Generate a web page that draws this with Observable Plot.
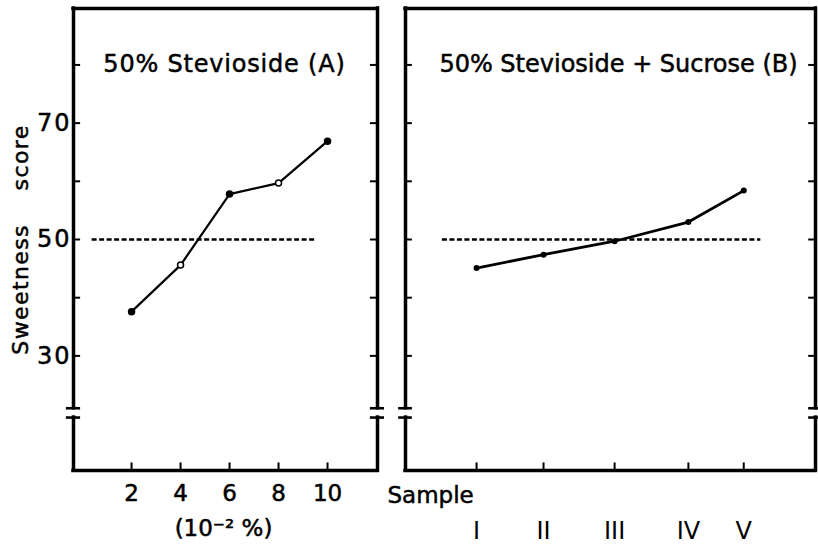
<!DOCTYPE html>
<html>
<head>
<meta charset="utf-8">
<script src="https://cdn.jsdelivr.net/npm/d3@7"></script>
<script src="https://cdn.jsdelivr.net/npm/@observablehq/plot@0.6"></script>
<style>
html, body { margin: 0; padding: 0; background: #fff; }
#wrap { position: relative; width: 818px; height: 546px; overflow: hidden; background: #fff; }
#wrap svg { position: absolute; top: 0; }
</style>
</head>
<body>
<div id="wrap"></div>
<script>
// ---- data ----
const concA = [2, 4, 6, 8, 10];                 // stevioside concentration (10^-2 %)
const scoreA = [37.6, 45.6, 57.8, 59.7, 66.9];  // sweetness score, panel A
const samples = ["I", "II", "III", "IV", "V"];
const samplePos = [1.04, 2.02, 3.06, 4.14, 4.95]; // positions of samples on panel B axis
const scoreB = [45.1, 47.4, 49.7, 53.0, 58.4];  // sweetness score, panel B
const yTicks = [30, 40, 50, 60, 70, 80];
const yTickLabels = [30, 50, 70];
const referenceScore = 50;
const refSpanA = [0.39, 9.54];
const refSpanB = [0.54, 5.2];
const titleA = "50% Stevioside (A)";
const titleB = "50% Stevioside + Sucrose (B)";
const xLabelA = "(10\u207B\u00B2 %)";
const xLabelB = "Sample";
const yLabel = "Sweetness\u00A0\u00A0\u00A0\u00A0score";

// ---- layout ----
const Y_DOMAIN = [10.3, 89.7];
const BREAK_HI = 21.0, BREAK_LO = 19.4;
const FONT = "DejaVu Sans, Liberation Sans, sans-serif";
const TXT = {fill: "black", stroke: "black", strokeWidth: 0.5, lineAnchor: "middle"};

const rowsA = concA.map((c, i) => ({conc: c, score: scoreA[i]}));
const rowsB = samples.map((s, i) => ({sample: s, pos: samplePos[i], score: scoreB[i]}));

function frameMarks(xDomain, tickLen, capHalf, xTickValues) {
  const [x0, x1] = xDomain;
  const [y0, y1] = Y_DOMAIN;
  const sw = 3.5;
  return [
    Plot.ruleY([y0, y1], {y: d => d, x1: x0, x2: x1, stroke: "black", strokeWidth: sw, strokeLinecap: "square"}),
    Plot.ruleX([x0, x1], {x: d => d, y1: BREAK_HI, y2: y1, stroke: "black", strokeWidth: sw, strokeLinecap: "square"}),
    Plot.ruleX([x0, x1], {x: d => d, y1: y0, y2: BREAK_LO, stroke: "black", strokeWidth: sw, strokeLinecap: "square"}),
    Plot.ruleY(d3.cross([x0, x1], [BREAK_HI, BREAK_LO]), {
      y: d => d[1], x1: d => d[0] - capHalf, x2: d => d[0] + capHalf, stroke: "black", strokeWidth: 2.6
    }),
    Plot.ruleY(d3.cross([x0, x1], yTicks), {
      y: d => d[1], x1: d => d[0], x2: d => d[0] === x0 ? x0 + tickLen : x1 - tickLen, stroke: "black", strokeWidth: 2
    }),
    Plot.ruleX(xTickValues, {x: d => d, y1: y0, y2: y0 + 1.3, stroke: "black", strokeWidth: 2})
  ];
}

const common = {
  height: 546,
  marginTop: 8,
  marginBottom: 76,
  y: {domain: Y_DOMAIN, axis: null},
  style: {fontFamily: FONT, background: "white", color: "black", overflow: "visible"}
};

// ---- Panel A ----
const xDomA = [-0.37, 12.04];
const plotA = Plot.plot({
  ...common,
  width: 384,
  marginLeft: 73,
  marginRight: 7,
  x: {domain: xDomA, axis: null},
  marks: [
    ...frameMarks(xDomA, 0.29, 0.29, concA),
    Plot.ruleY([referenceScore], {y: d => d, x1: refSpanA[0], x2: refSpanA[1], stroke: "black", strokeWidth: 2.4, strokeDasharray: "5,2.5"}),
    Plot.line(rowsA, {x: "conc", y: "score", stroke: "black", strokeWidth: 2.2}),
    Plot.dot(rowsA, {x: "conc", y: "score", r: 3, stroke: "black", strokeWidth: 1.5, fill: (d, i) => (i % 2 ? "white" : "black")}),
    Plot.text(yTickLabels, {...TXT, x: xDomA[0], y: d => d, text: d => String(d), dx: -2, textAnchor: "end", fontSize: 24}),
    Plot.text(concA, {...TXT, x: d => d, y: Y_DOMAIN[0], text: d => String(d), dy: 23, fontSize: 23}),
    Plot.text([xLabelA], {...TXT, frameAnchor: "bottom", textAnchor: "middle", dx: -2, dy: 58, fontSize: 23}),
    Plot.text([titleA], {...TXT, frameAnchor: "top", textAnchor: "middle", dx: -1, dy: 55.5, fontSize: 24}),
    Plot.text([yLabel], {...TXT, frameAnchor: "left", textAnchor: "middle", dx: -53, rotate: -90, fontSize: 22})
  ]
});

// ---- Panel B ----
const xDomB = [0, 6];
const plotB = Plot.plot({
  ...common,
  width: 434,
  marginLeft: 21,
  marginRight: 3,
  x: {domain: xDomB, axis: null},
  marks: [
    ...frameMarks(xDomB, 0.1, 0.1, samplePos),
    Plot.ruleY([referenceScore], {y: d => d, x1: refSpanB[0], x2: refSpanB[1], stroke: "black", strokeWidth: 2.4, strokeDasharray: "5,2.5"}),
    Plot.line(rowsB, {x: "pos", y: "score", stroke: "black", strokeWidth: 2.8}),
    Plot.dot(rowsB, {x: "pos", y: "score", r: 3, fill: "black"}),
    Plot.text(rowsB, {fill: "black", lineAnchor: "middle", x: "pos", y: Y_DOMAIN[0], text: "sample", dy: 61, fontSize: 24}),
    Plot.text([xLabelB], {...TXT, frameAnchor: "bottom-left", dx: -18, dy: 25, textAnchor: "start", fontSize: 23}),
    Plot.text([titleB], {...TXT, frameAnchor: "top", textAnchor: "middle", dx: 8, dy: 55.5, fontSize: 24})
  ]
});

plotA.style.left = "0px";
plotB.style.left = "384px";
const wrap = document.getElementById("wrap");
wrap.appendChild(plotA);
wrap.appendChild(plotB);

// letter spacing tweaks to match the hand lettering
d3.select(plotA).selectAll("text").each(function () {
  const t = this.textContent;
  if (t === titleA) this.style.letterSpacing = "0.8px";
  if (t === yLabel) this.style.letterSpacing = "1.4px";
  if (yTickLabels.map(String).includes(t)) this.style.letterSpacing = "2px";
});
</script>
</body>
</html>
